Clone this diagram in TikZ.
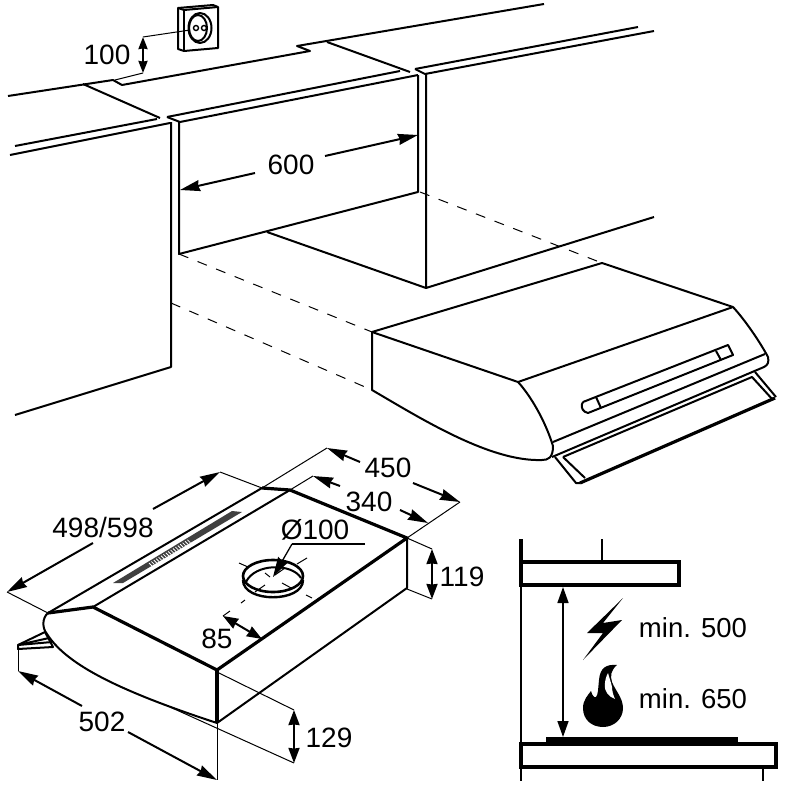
\documentclass[tikz,border=0pt]{standalone}
\usepackage{fontspec}
\setmainfont{Liberation Sans}
\usetikzlibrary{arrows.meta}
\tikzset{
  body/.style={line width=2pt,line join=round},
  heavy/.style={line width=3.2pt,line join=round},
  thin line/.style={line width=1pt},
  hidden line/.style={line width=1pt,dash pattern=on 10pt off 10pt},
  bigarrow/.style={line width=2pt,-{Stealth[length=20pt,width=11pt,inset=1.5pt]}},
  dimarrow/.style={line width=2pt,{Stealth[length=15pt,width=11pt,inset=0.5pt]}-{Stealth[length=15pt,width=11pt,inset=0.5pt]}},
  dimlabel/.style={inner sep=0pt,font=\fontsize{28}{30}\selectfont}
}
\begin{document}
\begin{tikzpicture}[x=1pt,y=-1pt]
  \useasboundingbox (0,0) rectangle (800,800);
  % wall and cabinets
  \draw[body] (8,96) -- (113,80) -- (122,85) -- (310,51) -- (297,46) -- (544,4);
  \draw[body] (83,84) -- (160,118);
  \draw[body] (327,42) -- (410,72);
  \draw[body] (15,146) -- (157,119);
  \draw[body] (10,155) -- (170,123);
  \draw[body] (167,117) -- (400,71);
  \draw[body] (167,117) -- (180,122) -- (418,75);
  \draw[body] (415,69) -- (638,27);
  \draw[body] (415,69) -- (425,74) -- (654,31);
  \draw[body] (171,122) -- (171,367) -- (15,415);
  \draw[body] (179,122) -- (179,254) -- (418,192) -- (418,75);
  \draw[body] (426,74) -- (426,288) -- (654,217);
  \draw[body] (267,232) -- (426,288);
  \draw[hidden line] (179,254) -- (372,332);
  \draw[hidden line] (171,303) -- (372,390);
  \draw[hidden line] (420,192) -- (602,263);
  % socket
  \draw[body,fill=white] (178,8) -- (213,5) -- (218,7) -- (218,48) -- (184,51) -- (178,49) -- cycle;
  \draw[body] (178,8) -- (184,10) -- (218,7);
  \draw[body] (184,10) -- (184,51);
  \draw[body] (200,28) ellipse [x radius=11.5,y radius=15];
  \draw[body] (198,28) ellipse [x radius=9,y radius=13];
  \draw[line width=1.4pt] (196,28) circle (2.5) (204,28) circle (2.5);
  \coordinate (socketfoot) at (143,37);
  \coordinate (shelfedge) at (143,73);
  \draw[thin line] (190,30) -- (socketfoot);
  \draw[thin line] (shelfedge) -- (115,80);
  \draw[line width=2pt,{Stealth[length=12pt,width=9pt,inset=0.5pt]}-{Stealth[length=12pt,width=9pt,inset=0.5pt]}] (socketfoot) -- (shelfedge);
  \node[dimlabel] (depthlabel) at (107,55) {100};
  % opening width
  \node[dimlabel] (widthlabel) at (291,165) {600};
  \coordinate (openleft) at (180,190);
  \coordinate (openright) at (418,135);
  \draw[bigarrow] (255,173) -- (openleft);
  \draw[bigarrow] (325,156) -- (openright);
  % hood, installed
  \draw[body] (518,382) -- (372,332) -- (602,263) -- (733,307) -- (518,382);
  \draw[body] (372,332) -- (372,390) .. controls (420,418) and (490,462) .. (542,460)
    .. controls (548,460) and (553,458) .. (553,446)
    .. controls (545,420) and (530,395) .. (518,382);
  \draw[body] (733,307) .. controls (745,320) and (760,342) .. (768,357)
    .. controls (769,362) and (768,365) .. (764,367) -- (552,457);
  \draw[body] (553,442) -- (765,354);
  \draw[body] (583,402) -- (728,345) -- (733,355) -- (588,413)
    .. controls (583,412) and (581,408) .. (582,404) -- (583,402);
  \draw[body] (596,397) -- (601,408);
  \draw[body] (716,351) -- (721,360);
  \draw[body] (555,457) -- (576,483) -- (580,483);
  \draw[body] (563,457) -- (585,478);
  \draw[body] (563,457) -- (752,377) -- (773,400);
  \draw[body] (755,372) -- (776,397);
  \draw[heavy] (580,483) -- (775,398);
  % hood, dimensions
  \draw[heavy] (48,613) -- (93,607) -- (217,670) -- (407,538) -- (290,490) -- (262,488);
  \draw[body] (48,613) -- (262,488);
  \draw[body] (93,607) -- (290,490);
  \draw[heavy] (217,670) -- (217,723);
  \draw[body] (217,723) -- (407,588) -- (407,538);
  \draw[body] (48,613) .. controls (42,618) and (42,628) .. (47,634)
    .. controls (65,662) and (110,688) .. (217,723);
  \draw[body] (18,645) -- (45,632) -- (53,647) -- (18,649) -- cycle;
  \draw[body] (18,645) -- (49,638);
  \draw[body] (18,645) -- (52,642);
  % vent
  \fill[black!75] (113,583) -- (232,511) -- (242,512) -- (123,583) -- cycle;
  \foreach \i in {0,...,16} {
    \draw[white,line width=0.8pt] ({152+\i*2.4},{566-\i*1.45}) -- ++(-3,-3);
  }
  % duct
  \draw[line width=2.6pt] (273,576) ellipse [x radius=30,y radius=16];
  \draw[line width=2.4pt] (243,580) .. controls (243,603) and (303,603) .. (303,580);
  \draw[line width=2pt] (246,582) .. controls (255,563) and (292,563) .. (301,578);
  \draw[thin line] (239,563) -- (248,567) (265,573) -- (270,577) (282,583) -- (293,589) (306,595) -- (312,598);
  \draw[thin line] (307,558) -- (297,564) (285,568) -- (275,575) (265,585) -- (255,592) (245,600) -- (241,603);
  \node[dimlabel] (ductlabel) at (315,530) {Ø100};
  \coordinate (ductcentre) at (273,577);
  \draw[line width=1.3pt] (365,544) -- (292,544);
  \draw[bigarrow,line width=1.3pt] (292,544) -- (ductcentre);
  % overall sizes
  \coordinate (widthfar) at (220,472);
  \coordinate (widthnear) at (7,592);
  \draw[thin line] (widthfar) -- (262,488);
  \draw[thin line] (widthnear) -- (48,613);
  \draw[bigarrow] (153,509) -- (widthfar);
  \draw[bigarrow] (93,543) -- (widthnear);
  \node[dimlabel] (widthdim) at (103,527) {498/598};
  \coordinate (deepfar) at (327,448);
  \coordinate (deepnear) at (460,502);
  \draw[thin line] (262,488) -- (deepfar);
  \draw[thin line] (deepnear) -- (407,538);
  \draw[bigarrow] (360,462) -- (deepfar);
  \draw[bigarrow] (413,483) -- (deepnear);
  \node[dimlabel] (deepdim) at (388,468) {450};
  \coordinate (flatfar) at (313,476);
  \coordinate (flatnear) at (428,523);
  \draw[thin line] (290,490) -- (flatfar);
  \draw[bigarrow] (340,486) -- (flatfar);
  \draw[bigarrow] (400,510) -- (flatnear);
  \node[dimlabel] (flatdim) at (369,502) {340};
  % heights
  \coordinate (backtop) at (432,549);
  \coordinate (backbottom) at (432,599);
  \draw[thin line] (407,538) -- (backtop);
  \draw[thin line] (407,589) -- (backbottom);
  \draw[dimarrow] (backtop) -- (backbottom);
  \node[dimlabel] (backdim) at (462,577) {119};
  \coordinate (fronttop) at (294,710);
  \coordinate (frontbottom) at (294,763);
  \draw[thin line] (217,672) -- (fronttop);
  \draw[thin line] (170,707) -- (frontbottom);
  \draw[dimarrow] (fronttop) -- (frontbottom);
  \node[dimlabel] (frontdim) at (329,738) {129};
  % duct offset
  \coordinate (ductoff) at (223,616);
  \coordinate (ductedge) at (262,639);
  \draw[thin line] (ductoff) -- (230,611);
  \draw[dimarrow] (ductoff) -- (ductedge);
  \node[dimlabel] (offdim) at (217,639) {85};
  % filter depth
  \coordinate (filterend) at (18,671);
  \coordinate (frontend) at (217,780);
  \draw[thin line] (18,645) -- (filterend);
  \draw[thin line] (217,723) -- (frontend);
  \draw[bigarrow] (82,706) -- (filterend);
  \draw[bigarrow] (128,732) -- (frontend);
  \node[dimlabel] (filterdim) at (102,722) {502};
  % clearance
  \draw[heavy] (521,539) -- (521,583);
  \draw[line width=2pt] (521,583) -- (521,781);
  \draw[line width=2.6pt] (602,539) -- (602,562);
  \draw[line width=3.6pt] (521,562) rectangle (679,585);
  \draw[line width=3.6pt] (521,744) rectangle (776,767);
  \fill (546,737) rectangle (738,745);
  \draw[line width=2pt] (763,767) -- (763,781);
  \coordinate (clearancetop) at (563,587);
  \coordinate (clearancebottom) at (563,737);
  \draw[line width=1.5pt,{Stealth[length=16pt,width=11pt,inset=0pt]}-{Stealth[length=16pt,width=11pt,inset=0pt]}] (clearancetop) -- (clearancebottom);
  \fill (623,598) -- (587,633) -- (603,633) -- (583,660) -- (622,620) -- (603,623) -- cycle;
  \fill (617,665) .. controls (606,664) and (600,668) .. (599,680)
    .. controls (598,690) and (598,695) .. (596,697)
    .. controls (594,698) and (592,695) .. (591,691)
    .. controls (588,695) and (583,700) .. (583,708)
    .. controls (583,720) and (592,727) .. (603,727)
    .. controls (614,727) and (623,719) .. (623,708)
    .. controls (623,698) and (615,690) .. (612,682)
    .. controls (610,676) and (611,670) .. (617,665) -- cycle;
  \fill[white] (608,673) .. controls (604,680) and (604,690) .. (607,693)
    .. controls (609,696) and (612,698) .. (615,699)
    .. controls (613,695) and (612,690) .. (612,687)
    .. controls (611,682) and (609,677) .. (608,673) -- cycle;
  \node[dimlabel,font=\fontsize{27.5}{30}\selectfont] (minelectric) at (693,628) {min. 500};
  \node[dimlabel,font=\fontsize{27.5}{30}\selectfont] (mingas) at (693,699) {min. 650};
\end{tikzpicture}
\end{document}
